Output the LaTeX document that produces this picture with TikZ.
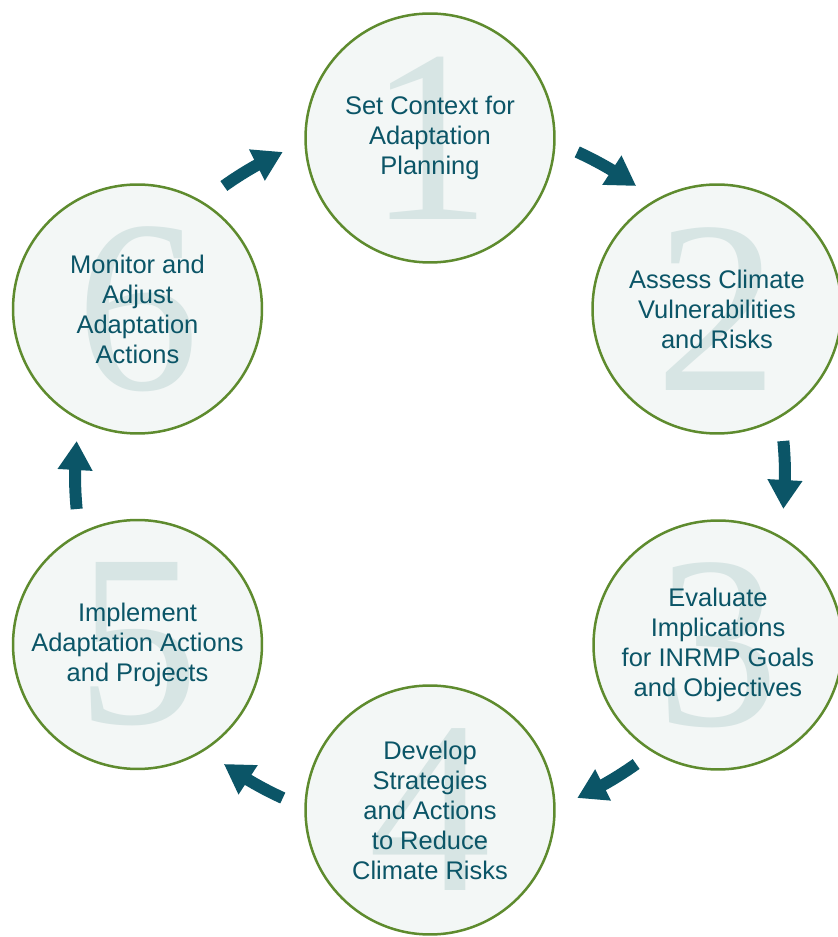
\documentclass[tikz,border=0pt]{standalone}
\usepackage{fontspec}
\setmainfont{Liberation Sans}
\newfontfamily\numfont{Liberation Serif}
\usetikzlibrary{arrows.meta,bending,calc,positioning}
\definecolor{cycleteal}{HTML}{0B5567}
\definecolor{ringgreen}{HTML}{5E8B2E}
\definecolor{discfill}{HTML}{F3F7F6}
\definecolor{numshade}{HTML}{D7E5E4}
\tikzset{%
	stage/.style     = {draw=ringgreen, fill=discfill, circle, line width=0.05cm, minimum size=4.98cm, inner sep=0pt},
	stagenum/.style  = {text=numshade, font=\numfont\fontsize{140}{140}\selectfont, inner sep=0pt},
	stagetext/.style = {text=cycleteal, align=center, font=\fontsize{14.5}{17.1}\selectfont, inner sep=0pt},
	cyclearrow/.style = {draw=cycleteal, line width=0.24cm, -{Triangle[length=0.58cm,width=0.66cm]}},
}

\begin{document}
\begin{tikzpicture}[x=0.02cm,y=0.02cm]
	\useasboundingbox (0,0) rectangle (838,937);
	\coordinate (hub) at (430,462);
	
	\node[stage] (s1) at (430,799) {};
	\node[stage] (s2) at (717,628) {};
	\node[stage] (s3) at (718,292) {};
	\node[stage] (s4) at (430,127) {};
	\node[stage] (s5) at (137.5,292.5) {};
	\node[stage] (s6) at (137.5,628) {};
	
	\node[stagenum] (n1) at (s1) {1};
	\node[stagenum] (n2) at (s2) {2};
	\node[stagenum] (n3) at (s3) {3};
	\node[stagenum] (n4) at (s4) {4};
	\node[stagenum] (n5) at (s5) {5};
	\node[stagenum] (n6) at (s6) {6};
	
	\node[stagetext] (t1) at (s1) {Set Context for\\Adaptation\\Planning};
	\node[stagetext] (t2) at (s2) {Assess Climate\\Vulnerabilities\\and Risks};
	\node[stagetext] (t3) at (s3) {Evaluate\\Implications\\for INRMP Goals\\and Objectives};
	\node[stagetext] (t4) at (s4) {Develop\\Strategies\\and Actions\\to Reduce\\Climate Risks};
	\node[stagetext] (t5) at (s5) {Implement\\Adaptation Actions\\and Projects};
	\node[stagetext] (t6) at (s6) {Monitor and\\Adjust\\Adaptation\\Actions};
	
	% arrows between the stages, clockwise
	\draw[cyclearrow] ($(hub)+(65.5:355)$) arc[start angle=65.5, end angle=54.5, radius=355];
	\draw[cyclearrow] ($(hub)+(5.5:355)$) arc[start angle=5.5, end angle=-5.5, radius=355];
	\draw[cyclearrow] ($(hub)+(-54.5:355)$) arc[start angle=-54.5, end angle=-65.5, radius=355];
	\draw[cyclearrow] ($(hub)+(-114.5:355)$) arc[start angle=-114.5, end angle=-125.5, radius=355];
	\draw[cyclearrow] ($(hub)+(-174.5:355)$) arc[start angle=-174.5, end angle=-185.5, radius=355];
	\draw[cyclearrow] ($(hub)+(125.5:355)$) arc[start angle=125.5, end angle=114.5, radius=355];
\end{tikzpicture}
\end{document}
